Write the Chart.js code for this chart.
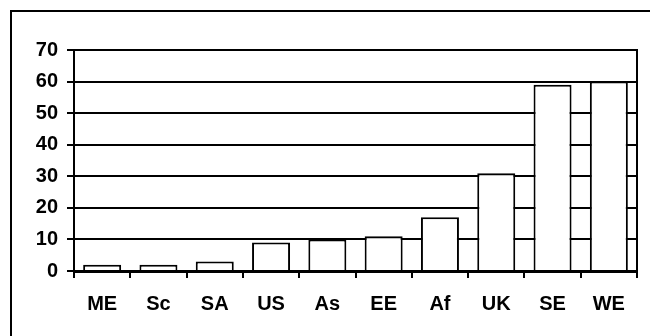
<!DOCTYPE html>
<html>
<head>
<meta charset="utf-8">
<script src="https://cdn.jsdelivr.net/npm/chart.js@4/dist/chart.umd.min.js"></script>
<style>
  html, body { margin: 0; padding: 0; background: #fff; overflow: hidden; }
  #wrap { position: relative; width: 650px; height: 336px; }
  #frame { position: absolute; left: 10px; top: 10px; width: 700px; height: 400px; border: 2px solid #000; }
  canvas { position: absolute; left: 0; top: 0; }
</style>
</head>
<body>
<div id="wrap">
  <div id="frame"></div>
  <canvas id="chart" width="650" height="336"></canvas>
</div>
<script>
  var categories = ['ME', 'Sc', 'SA', 'US', 'As', 'EE', 'Af', 'UK', 'SE', 'WE'];
  var values = [2, 2, 3, 9, 10, 11, 17, 31, 59, 60];
  var yMax = 70;
  var yStep = 10;

  var font = { family: 'Liberation Sans, Arial, sans-serif', size: 20, weight: 'bold' };

  new Chart(document.getElementById('chart'), {
    type: 'bar',
    data: {
      labels: categories,
      datasets: [{
        data: values,
        backgroundColor: '#ffffff',
        borderColor: '#000000',
        borderWidth: 2,
        borderSkipped: 'bottom',
        categoryPercentage: 1,
        barPercentage: 0.675
      }]
    },
    options: {
      responsive: false,
      animation: false,
      layout: { padding: { left: 0, right: 13, top: 50, bottom: 0 } },
      plugins: { legend: { display: false }, tooltip: { enabled: false } },
      scales: {
        x: {
          grid: { offset: true, drawOnChartArea: false, drawTicks: true, tickLength: 7, color: '#000', lineWidth: 2 },
          border: { display: true, color: '#000', width: 3 },
          ticks: { color: '#000', font: font, padding: 14, maxRotation: 0 },
          afterFit: function (s) { s.height = 65; }
        },
        y: {
          min: 0,
          max: yMax,
          grid: { color: '#000', lineWidth: 2, tickLength: 7 },
          border: { display: true, color: '#000', width: 2 },
          ticks: { stepSize: yStep, color: '#000', font: font, padding: 9 },
          afterFit: function (s) { s.width = 74; }
        },
        y2: {
          position: 'right',
          min: 0,
          max: yMax,
          grid: { drawOnChartArea: false, drawTicks: false },
          border: { display: true, color: '#000', width: 2 },
          ticks: { display: false },
          afterFit: function (s) { s.width = 0; }
        }
      }
    }
  });
</script>
</body>
</html>
